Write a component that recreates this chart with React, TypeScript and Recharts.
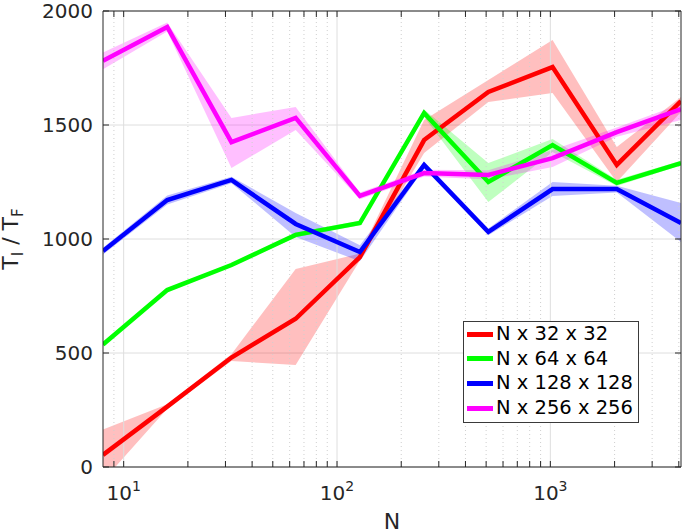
import React from 'react';
import { ComposedChart, Line, Area, XAxis, YAxis, CartesianGrid, ReferenceLine, Legend, Label } from 'recharts';

const nValues = [8, 16, 32, 64, 128, 256, 512, 1024, 2048, 4096];

const red32 = [53, 265, 480, 650, 921, 1434, 1645, 1754, 1325, 1605];
const red32Lo = [-60, 255, 465, 447, 906, 1377, 1601, 1640, 1250, 1557];
const red32Hi = [165, 275, 495, 868, 936, 1522, 1697, 1873, 1404, 1623];

const green64 = [537, 776, 886, 1018, 1070, 1553, 1250, 1412, 1246, 1333];
const green64Lo = [527, 768, 878, 1008, 1060, 1535, 1162, 1382, 1232, 1323];
const green64Hi = [547, 784, 894, 1028, 1080, 1568, 1333, 1439, 1260, 1343];

const blue128 = [947, 1171, 1259, 1066, 943, 1325, 1031, 1219, 1219, 1070];
const blue128Lo = [932, 1151, 1245, 1009, 902, 1310, 1016, 1189, 1204, 987];
const blue128Hi = [962, 1191, 1273, 1114, 973, 1340, 1046, 1250, 1234, 1158];

const mag256 = [1782, 1930, 1425, 1531, 1189, 1289, 1281, 1355, 1469, 1570];
const mag256Lo = [1745, 1910, 1311, 1478, 1174, 1274, 1261, 1316, 1449, 1522];
const mag256Hi = [1818, 1950, 1531, 1579, 1204, 1304, 1301, 1390, 1489, 1592];

const seriesNames = ['N x 32 x 32', 'N x 64 x 64', 'N x 128 x 128', 'N x 256 x 256'];

const majorXTicks = [10, 100, 1000];
const minorXTicks = [9, 20, 30, 40, 50, 60, 70, 80, 90, 200, 300, 400, 500, 600, 700, 800, 900, 2000, 3000, 4000];
const allXTicks = [9, 10, 20, 30, 40, 50, 60, 70, 80, 90, 100, 200, 300, 400, 500, 600, 700, 800, 900, 1000, 2000, 3000, 4000];
const yTicks = [0, 500, 1000, 1500, 2000];

const SERIES = [
  { key: 's32', name: seriesNames[0], color: '#ff0000' },
  { key: 's64', name: seriesNames[1], color: '#00ff00' },
  { key: 's128', name: seriesNames[2], color: '#0000ff' },
  { key: 's256', name: seriesNames[3], color: '#ff00ff' },
];

const data = nValues.map((n, i) => ({
  n,
  s32: red32[i],
  s32band: [red32Lo[i], red32Hi[i]],
  s64: green64[i],
  s64band: [green64Lo[i], green64Hi[i]],
  s128: blue128[i],
  s128band: [blue128Lo[i], blue128Hi[i]],
  s256: mag256[i],
  s256band: [mag256Lo[i], mag256Hi[i]],
}));

const FONT = 'DejaVu Sans';
const AX = '#262626';

const BottomTick = (props: any) => {
  const { x, y, payload } = props;
  const v = payload.value;
  const major = majorXTicks.includes(v);
  const exp = Math.round(Math.log10(v));
  return (
    <g>
      <line x1={x} x2={x} y1={y} y2={y - 6} stroke={AX} strokeWidth={1} />
      {major && (
        <text x={x} y={y + 33} textAnchor="middle" fill={AX} fontSize={20} fontFamily={FONT}>
          10<tspan fontSize={14} dy={-9}>{exp}</tspan>
        </text>
      )}
    </g>
  );
};

const TopTick = (props: any) => {
  const { x, y } = props;
  return <line x1={x} x2={x} y1={y} y2={y + 6} stroke={AX} strokeWidth={1} />;
};

const LeftTick = (props: any) => {
  const { x, y, payload } = props;
  return (
    <g>
      <line x1={x} x2={x + 6} y1={y} y2={y} stroke={AX} strokeWidth={1} />
      <text x={x - 10} y={y} dy="0.36em" textAnchor="end" fill={AX} fontSize={20} fontFamily={FONT}>
        {payload.value}
      </text>
    </g>
  );
};

const RightTick = (props: any) => {
  const { x, y } = props;
  return <line x1={x} x2={x - 6} y1={y} y2={y} stroke={AX} strokeWidth={1} />;
};

const renderYLabel = (p: any) => {
  const vb = p.viewBox || { x: 0, y: 11, width: 103, height: 456 };
  const cx = 18;
  const cy = vb.y + vb.height / 2;
  return (
    <text x={cx} y={cy} transform={`rotate(-90 ${cx} ${cy})`} textAnchor="middle" fill={AX} fontSize={22} fontFamily={FONT}>
      T<tspan fontSize={15} dy={5}>I</tspan>
      <tspan dy={-5}> / T</tspan>
      <tspan fontSize={15} dy={5}>F</tspan>
    </text>
  );
};

const renderXLabel = (p: any) => {
  const vb = p.viewBox || { x: 103, y: 467, width: 578, height: 65 };
  return (
    <text x={vb.x + vb.width / 2} y={vb.y + 62} textAnchor="middle" fill={AX} fontSize={22} fontFamily={FONT}>
      N
    </text>
  );
};

const renderLegend = () => (
  <div
    style={{
      border: '1px solid #3a3a3a',
      background: '#ffffff',
      width: 174,
      padding: '0 0 2px 0',
      fontFamily: FONT,
      fontSize: 19.5,
      color: '#000000',
      boxSizing: 'content-box',
    }}
  >
    {SERIES.map((s) => (
      <div key={s.key} style={{ display: 'flex', alignItems: 'center', height: 24.6 }}>
        <div style={{ width: 26, height: 5, background: s.color, marginLeft: 3, marginRight: 3, flex: 'none' }} />
        <span style={{ lineHeight: '24.6px', whiteSpace: 'nowrap' }}>{s.name}</span>
      </div>
    ))}
  </div>
);

export default function App() {
  return (
    <div style={{ width: 685, height: 532, position: 'relative', fontFamily: FONT }}>
      <style>{`body{margin:0;}`}</style>
      <ComposedChart width={685} height={532} data={data} margin={{ top: 0, right: 0, bottom: 0, left: 0 }}>
        <CartesianGrid vertical={false} stroke="#dedede" strokeWidth={1} />
        {minorXTicks.map((t) => (
          <ReferenceLine key={`m${t}`} x={t} stroke="#cfcfcf" strokeDasharray="1 3" strokeWidth={1} />
        ))}
        {majorXTicks.map((t) => (
          <ReferenceLine key={`M${t}`} x={t} stroke="#dedede" strokeWidth={1} />
        ))}
        <XAxis
          dataKey="n"
          type="number"
          scale="log"
          domain={[8, 4096]}
          allowDataOverflow
          ticks={allXTicks}
          interval={0}
          tickSize={0}
          tickMargin={0}
          tickLine={false}
          tick={<BottomTick />}
          axisLine={{ stroke: AX }}
          height={65}
        >
          <Label content={renderXLabel} />
        </XAxis>
        <XAxis
          xAxisId="top"
          orientation="top"
          dataKey="n"
          type="number"
          scale="log"
          domain={[8, 4096]}
          allowDataOverflow
          ticks={allXTicks}
          interval={0}
          tickSize={0}
          tickMargin={0}
          tickLine={false}
          tick={<TopTick />}
          axisLine={{ stroke: AX }}
          height={11}
        />
        <YAxis
          type="number"
          domain={[0, 2000]}
          allowDataOverflow
          ticks={yTicks}
          interval={0}
          tickSize={0}
          tickMargin={0}
          tickLine={false}
          tick={<LeftTick />}
          axisLine={{ stroke: AX }}
          width={103}
        >
          <Label content={renderYLabel} />
        </YAxis>
        <YAxis
          yAxisId="r"
          orientation="right"
          type="number"
          domain={[0, 2000]}
          allowDataOverflow
          ticks={yTicks}
          interval={0}
          tickSize={0}
          tickMargin={0}
          tickLine={false}
          tick={<RightTick />}
          axisLine={{ stroke: AX }}
          width={4}
        />
        {SERIES.map((s) => [
          <Area
            key={`${s.key}a`}
            type="linear"
            dataKey={`${s.key}band`}
            stroke="none"
            fill={s.color}
            fillOpacity={0.25}
            isAnimationActive={false}
            legendType="none"
            activeDot={false}
          />,
          <Line
            key={`${s.key}l`}
            type="linear"
            dataKey={s.key}
            name={s.name}
            stroke={s.color}
            strokeWidth={4.5}
            dot={false}
            activeDot={false}
            isAnimationActive={false}
          />,
        ])}
        <Legend
          layout="vertical"
          align="center"
          verticalAlign="middle"
          content={renderLegend}
          wrapperStyle={{ left: 463, top: 321, width: 'auto', height: 'auto' }}
        />
      </ComposedChart>
    </div>
  );
}
